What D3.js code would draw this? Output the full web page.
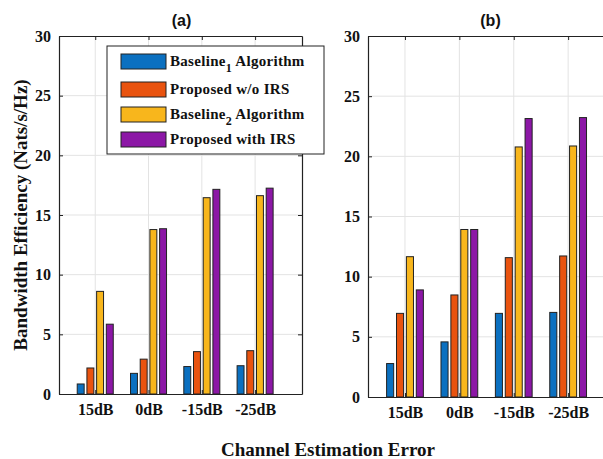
<!DOCTYPE html>
<html>
<head>
<meta charset="utf-8">
<script src="https://cdn.jsdelivr.net/npm/d3@7"></script>
<style>
  body { margin: 0; background: #fff; }
  text { font-family: "Liberation Serif", "Times New Roman", serif; font-weight: bold; }
</style>
</head>
<body>
<script>
var categories = ["15dB", "0dB", "-15dB", "-25dB"];
var seriesNames = ["Baseline1 Algorithm", "Proposed w/o IRS", "Baseline2 Algorithm", "Proposed with IRS"];
var colors = ["#0b70c0", "#e9530f", "#f8b61c", "#8c17a6"];
var yTicks = [0, 5, 10, 15, 20, 25, 30];

// panel (a), one array per series
var aBaseline1 = [0.84, 1.73, 2.3, 2.37];
var aProposedNoIrs = [2.18, 2.92, 3.55, 3.63];
var aBaseline2 = [8.6, 13.78, 16.45, 16.62];
var aProposedIrs = [5.85, 13.85, 17.15, 17.25];

// panel (b)
var bBaseline1 = [2.78, 4.58, 6.95, 7.03];
var bProposedNoIrs = [6.95, 8.48, 11.58, 11.72];
var bBaseline2 = [11.66, 13.92, 20.78, 20.86];
var bProposedIrs = [8.9, 13.92, 23.14, 23.22];

var width = 603;
var height = 459;

var svg = d3.select("body")
  .append("svg")
  .attr("width", width)
  .attr("height", height);

var offsets = [-0.273, -0.091, 0.091, 0.273];
var barW = 0.13;

function drawPanel(title, series, left, right, top, bottom, showLegend) {
  var x = d3.scaleLinear().domain([0.32, 4.88]).range([left, right]);
  var y = d3.scaleLinear().domain([0, 30]).range([bottom, top]);
  var g = svg.append("g");

  // background
  g.append("rect")
    .attr("x", left).attr("y", top)
    .attr("width", right - left).attr("height", bottom - top)
    .attr("fill", "#fff");

  // grid
  g.selectAll(".hgrid")
    .data(yTicks.slice(1, -1))
    .enter()
    .append("line")
    .attr("x1", left).attr("x2", right)
    .attr("y1", function(d) { return y(d); })
    .attr("y2", function(d) { return y(d); })
    .attr("stroke", "#e3e3e3")
    .attr("stroke-width", 1);

  g.selectAll(".vgrid")
    .data(categories)
    .enter()
    .append("line")
    .attr("x1", function(d, i) { return x(i + 1); })
    .attr("x2", function(d, i) { return x(i + 1); })
    .attr("y1", top).attr("y2", bottom)
    .attr("stroke", "#e3e3e3")
    .attr("stroke-width", 1);

  // bars
  series.forEach(function(vals, s) {
    g.selectAll(".bar" + s)
      .data(vals)
      .enter()
      .append("rect")
      .attr("x", function(d, i) { return x(i + 1 + offsets[s] - barW / 2); })
      .attr("y", function(d) { return y(d); })
      .attr("width", x(barW) - x(0))
      .attr("height", function(d) { return y(0) - y(d); })
      .attr("fill", colors[s])
      .attr("stroke", "#222")
      .attr("stroke-width", 1);
  });

  // axes (ticks inside, box on)
  var yAxis = d3.axisLeft(y).tickValues(yTicks).tickSizeInner(-4).tickSizeOuter(0).tickPadding(8);
  var gy = g.append("g").attr("transform", "translate(" + left + ",0)").call(yAxis);
  var xAxis = d3.axisBottom(x).tickValues([1, 2, 3, 4])
    .tickFormat(function(d) { return categories[d - 1]; })
    .tickSizeInner(-4).tickSizeOuter(0).tickPadding(10);
  var gx = g.append("g").attr("transform", "translate(0," + bottom + ")").call(xAxis);
  var gyr = g.append("g").attr("transform", "translate(" + right + ",0)")
    .call(d3.axisRight(y).tickValues(yTicks).tickSizeInner(-4).tickSizeOuter(0).tickFormat(""));
  var gxt = g.append("g").attr("transform", "translate(0," + top + ")")
    .call(d3.axisTop(x).tickValues([1, 2, 3, 4]).tickSizeInner(-4).tickSizeOuter(0).tickFormat(""));

  [gy, gx, gyr, gxt].forEach(function(a) {
    a.selectAll("path").attr("stroke", "#222").attr("stroke-width", 1.2);
    a.selectAll("line").attr("stroke", "#222");
    a.selectAll("text")
      .attr("fill", "#111")
      .style("font-size", "16px")
      .style("font-family", "'Liberation Serif', 'Times New Roman', serif")
      .style("font-weight", "bold");
  });

  // title
  svg.append("text")
    .attr("x", (left + 302 - 59 + left) / 2 + 1)
    .attr("y", 26)
    .attr("text-anchor", "middle")
    .style("font-family", "'Liberation Sans', Arial, sans-serif")
    .style("font-size", "16px")
    .attr("fill", "#111")
    .text(title);

  if (showLegend) {
    var lg = svg.append("g");
    lg.append("rect")
      .attr("x", 107).attr("y", 46)
      .attr("width", 217).attr("height", 108)
      .attr("fill", "#fff")
      .attr("stroke", "#222")
      .attr("stroke-width", 1);
    var rowsY = [54, 82, 107, 132];
    seriesNames.forEach(function(name, s) {
      lg.append("rect")
        .attr("x", 121).attr("y", rowsY[s])
        .attr("width", 45).attr("height", 15)
        .attr("fill", colors[s])
        .attr("stroke", "#222")
        .attr("stroke-width", 1);
      var t = lg.append("text")
        .attr("x", 170)
        .attr("y", rowsY[s] + 12)
        .style("font-size", "15px")
        .style("letter-spacing", "0.3px")
        .attr("fill", "#111");
      var m = name.match(/^Baseline(\d) (.*)$/);
      if (m) {
        t.append("tspan").text("Baseline");
        t.append("tspan").attr("dy", 6).style("font-size", "12px").text(m[1]);
        t.append("tspan").attr("dy", -6).text(" " + m[2]);
      } else {
        t.text(name);
      }
    });
  }
}

drawPanel("(a)", [aBaseline1, aProposedNoIrs, aBaseline2, aProposedIrs], 59, 302, 36, 394, true);
drawPanel("(b)", [bBaseline1, bProposedNoIrs, bBaseline2, bProposedIrs], 368, 616, 36, 397, false);

// shared labels
svg.append("text")
  .attr("transform", "translate(27,215) rotate(-90)")
  .attr("text-anchor", "middle")
  .style("font-size", "19px")
  .attr("fill", "#111")
  .text("Bandwidth Efficiency (Nats/s/Hz)");

svg.append("text")
  .attr("x", 328)
  .attr("y", 456)
  .attr("text-anchor", "middle")
  .style("font-size", "19px")
  .attr("fill", "#111")
  .text("Channel Estimation Error");
</script>
</body>
</html>
